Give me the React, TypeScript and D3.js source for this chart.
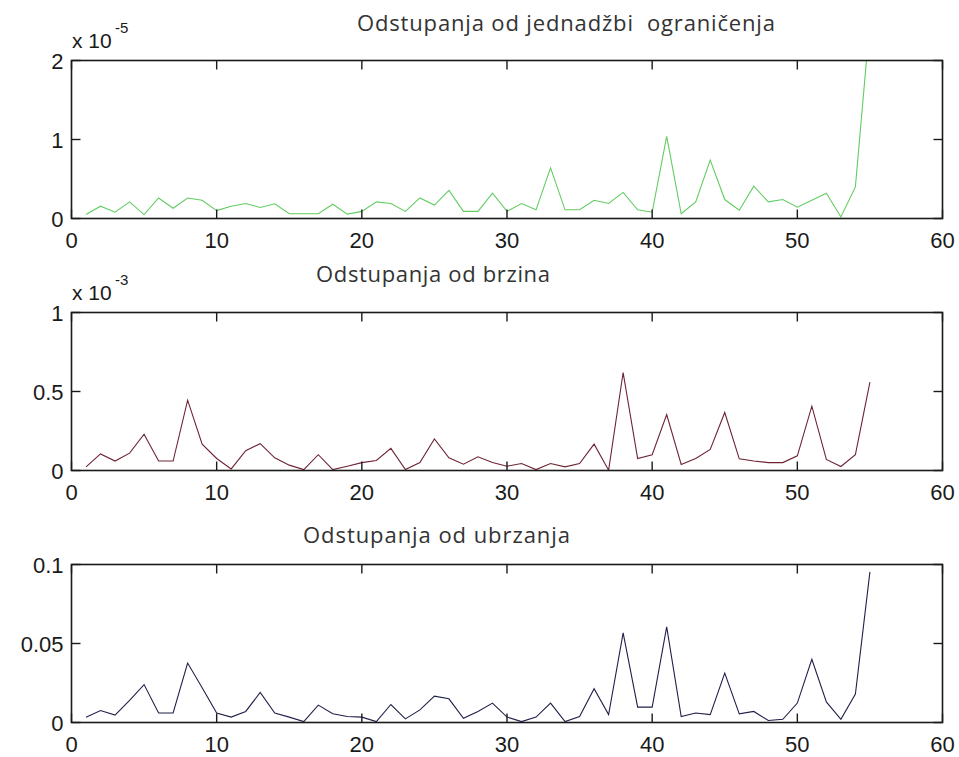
import React from "react";
import * as d3 from "d3";

const steps = d3.range(1, 56);
const xTicks = [0, 10, 20, 30, 40, 50, 60];

// Odstupanja od jednadžbi ograničenja (units of 1e-5)
const constraintDev = [
  0.05, 0.156, 0.08, 0.21, 0.05, 0.26, 0.13, 0.26, 0.23, 0.10,
  0.156, 0.19, 0.14, 0.186, 0.06, 0.06, 0.06, 0.18, 0.055, 0.09,
  0.21, 0.19, 0.09, 0.26, 0.17, 0.355, 0.09, 0.09, 0.32, 0.09,
  0.19, 0.11, 0.64, 0.11, 0.11, 0.23, 0.19, 0.33, 0.11, 0.08,
  1.04, 0.06, 0.21, 0.74, 0.24, 0.105, 0.41, 0.21, 0.24, 0.143,
  0.23, 0.32, 0.02, 0.4, 2.5,
];
// Odstupanja od brzina (units of 1e-3)
const velocityDev = [
  0.023, 0.105, 0.06, 0.11, 0.23, 0.06, 0.06, 0.445, 0.167, 0.076,
  0.01, 0.125, 0.17, 0.08, 0.034, 0.006, 0.10, 0.006, 0.027, 0.05,
  0.063, 0.14, 0.006, 0.05, 0.20, 0.08, 0.04, 0.087, 0.05, 0.027,
  0.044, 0.006, 0.044, 0.023, 0.044, 0.167, 0.002, 0.62, 0.076, 0.10,
  0.354, 0.038, 0.076, 0.133, 0.367, 0.074, 0.06, 0.05, 0.05, 0.093,
  0.407, 0.07, 0.025, 0.10, 0.56,
];
// Odstupanja od ubrzanja
const accelDev = [
  0.0034, 0.0076, 0.0047, 0.014, 0.024, 0.006, 0.006, 0.0376, 0.022, 0.006,
  0.0034, 0.007, 0.019, 0.006, 0.0034, 0.0006, 0.011, 0.0055, 0.0038, 0.0034,
  0.0006, 0.0114, 0.0023, 0.008, 0.0167, 0.015, 0.0027, 0.007, 0.0123, 0.0034,
  0.0006, 0.0034, 0.0123, 0.0006, 0.0038, 0.0214, 0.005, 0.0567, 0.0097, 0.0097,
  0.0605, 0.0038, 0.006, 0.005, 0.0313, 0.0055, 0.007, 0.0013, 0.002, 0.0123,
  0.040, 0.013, 0.002, 0.018, 0.0953,
];

const titles = [
  "Odstupanja od jednadžbi  ograničenja",
  "Odstupanja od brzina",
  "Odstupanja od ubrzanja",
];
const yTicks1 = [0, 1, 2];
const yTickLabels1 = ["0", "1", "2"];
const yTicks2 = [0, 0.5, 1];
const yTickLabels2 = ["0", "0.5", "1"];
const yTicks3 = [0, 0.05, 0.1];
const yTickLabels3 = ["0", "0.05", "0.1"];
const exponents = ["-5", "-3", null];

const W = 959;
const H = 757;
const left = 71.5;
const right = 942.5;

const panels = [
  { top: 60.5, bottom: 218.5, data: constraintDev, ymax: 2, ticks: yTicks1, labels: yTickLabels1, color: "#62cc62", title: titles[0], titleX: 357, titleW: 418, titleY: 31, exp: exponents[0] },
  { top: 312.5, bottom: 470.5, data: velocityDev, ymax: 1, ticks: yTicks2, labels: yTickLabels2, color: "#6e2434", title: titles[1], titleX: 316, titleW: 234, titleY: 282, exp: exponents[1] },
  { top: 564.5, bottom: 722.5, data: accelDev, ymax: 0.1, ticks: yTicks3, labels: yTickLabels3, color: "#20204a", title: titles[2], titleX: 303, titleW: 267, titleY: 543, exp: exponents[2] },
];

const tickFont = "'Liberation Sans', Arial, sans-serif";
const titleFont = "'Open Sans', 'DejaVu Sans', sans-serif";

function Panel({ p, idx }: { p: any; idx: number }) {
  const x = d3.scaleLinear().domain([0, 60]).range([left, right]);
  const y = d3.scaleLinear().domain([0, p.ymax]).range([p.bottom, p.top]);
  const line = d3
    .line<number>()
    .x((_, i) => x(steps[i]))
    .y((d) => y(d));
  const clipId = `clip${idx}`;
  const tl = 9;
  return (
    <g>
      <defs>
        <clipPath id={clipId}>
          <rect x={left} y={p.top} width={right - left} height={p.bottom - p.top} />
        </clipPath>
      </defs>
      <path d={line(p.data) || ""} fill="none" stroke={p.color} strokeWidth={1.1} clipPath={`url(#${clipId})`} />
      <rect x={left} y={p.top} width={right - left} height={p.bottom - p.top} fill="none" stroke="#1a1a1a" strokeWidth={1.6} />
      {xTicks.map((t) => (
        <g key={`x${t}`}>
          <line x1={x(t)} x2={x(t)} y1={p.bottom} y2={p.bottom - tl} stroke="#1a1a1a" strokeWidth={1.4} />
          <line x1={x(t)} x2={x(t)} y1={p.top} y2={p.top + tl} stroke="#1a1a1a" strokeWidth={1.4} />
          <text x={x(t)} y={p.bottom + 29} textAnchor="middle" fontFamily={tickFont} fontSize={22} fill="#1a1a1a">
            {t}
          </text>
        </g>
      ))}
      {p.ticks.map((t: number, i: number) => (
        <g key={`y${t}`}>
          <line x1={left} x2={left + tl} y1={y(t)} y2={y(t)} stroke="#1a1a1a" strokeWidth={1.4} />
          <line x1={right} x2={right - tl} y1={y(t)} y2={y(t)} stroke="#1a1a1a" strokeWidth={1.4} />
          <text x={left - 8} y={y(t) + 8} textAnchor="end" fontFamily={tickFont} fontSize={22} fill="#1a1a1a">
            {p.labels[i]}
          </text>
        </g>
      ))}
      {p.exp && (
        <g fontFamily={tickFont} fill="#1a1a1a">
          <text x={72} y={p.top - 13} fontSize={21}>x 10</text>
          <text x={115} y={p.top - 28} fontSize={15}>{p.exp}</text>
        </g>
      )}
      <text x={p.titleX} y={p.titleY} fontFamily={titleFont} fontSize={22} fill="#333" textLength={p.titleW} lengthAdjust="spacing" style={{ whiteSpace: "pre" }}>
        {p.title}
      </text>
    </g>
  );
}

export default function App() {
  return (
    <svg width={W} height={H} style={{ position: "absolute", left: 0, top: 0, background: "#fff" }}>
      <rect x={0} y={0} width={W} height={H} fill="#fff" />
      {panels.map((p, i) => (
        <Panel key={i} p={p} idx={i} />
      ))}
    </svg>
  );
}
